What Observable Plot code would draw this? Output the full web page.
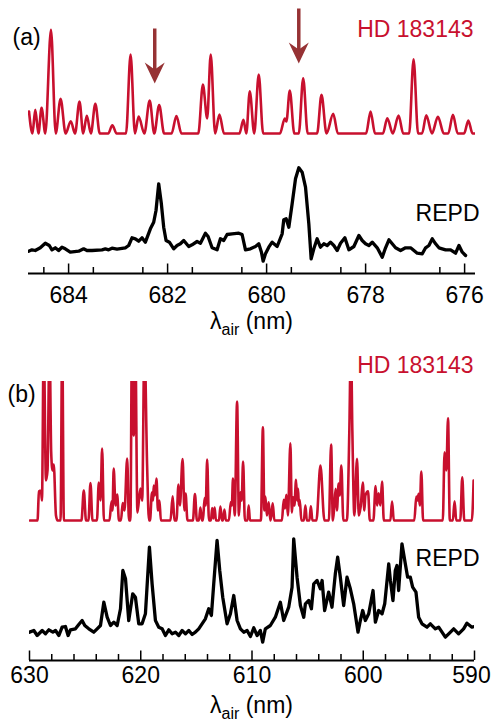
<!DOCTYPE html>
<html>
<head>
<meta charset="utf-8">
<script src="https://cdn.jsdelivr.net/npm/d3@7"></script>
<script src="https://cdn.jsdelivr.net/npm/@observablehq/plot@0.6"></script>
<style>
  body { margin: 0; background: #fff; }
  #chart { width: 491px; }
  #chart svg { display: block; }
</style>
</head>
<body>
<div id="chart"></div>
<script>
// ---------- DATA (wavelength in nm, intensity in arbitrary units) ----------
// Panel (a): 675.8 – 684.8 nm
const redA = [
  [684.80,0.22],[684.73,0],[684.673,0.237],[684.61,0],[684.546,0.257],[684.47,0],[684.356,1.037],[684.26,0],
  [684.162,0.347],[684.06,0],[683.956,0.123],[683.87,0],[683.78,0.32],[683.705,0],[683.632,0.177],[683.55,0],
  [683.46,0.297],[683.37,0],[683.20,0],[683.116,0.082],[683.03,0],
  [682.84,0],[682.748,0.79],[682.66,0],[682.585,0.17],[682.47,0],[682.362,0.33],[682.27,0],[682.17,0.285],[682.07,0],
  [681.92,0],[681.822,0.175],[681.72,0],
  [681.38,0],[681.287,0.49],[681.20,0.15],[681.129,0.79],[681.04,0],[680.953,0.19],[680.86,0],
  [680.55,0],[680.468,0.137],[680.41,0],[680.34,0.423],[680.25,0],[680.159,0.59],[680.07,0],
  [679.73,0],[679.633,0.15],[679.60,0.12],[679.532,0.43],[679.44,0],[679.35,0],[679.261,0.553],[679.17,0],
  [678.98,0],[678.891,0.387],[678.79,0],[678.654,0.197],[678.56,0],
  [677.99,0],[677.90,0.22],[677.81,0],
  [677.65,0],[677.562,0.153],[677.45,0],[677.334,0.18],[677.24,0],
  [677.12,0],[677.031,0.743],[676.94,0],
  [676.86,0],[676.774,0.183],[676.66,0],[676.539,0.167],[676.42,0],[676.33,0],[676.236,0.187],[676.14,0],
  [676.01,0],[675.925,0.13],[675.84,0],[675.78,0]
];
const blackA = [
  [684.808,0.113],[684.741,0.127],[684.673,0.12],[684.572,0.147],[684.471,0.193],[684.390,0.17],[684.336,0.127],
  [684.269,0.147],[684.202,0.12],[684.134,0.153],[684.067,0.137],[683.966,0.103],[683.797,0.113],[683.696,0.137],
  [683.629,0.12],[683.527,0.12],[683.325,0.127],[683.258,0.137],[683.191,0.127],[683.123,0.143],[683.022,0.133],
  [682.854,0.147],[682.786,0.17],[682.719,0.247],[682.651,0.237],[682.584,0.213],[682.517,0.247],[682.449,0.203],
  [682.348,0.337],[682.281,0.403],[682.234,0.52],[682.180,0.787],[682.126,0.587],[682.079,0.353],[682.031,0.22],
  [681.964,0.203],[681.876,0.137],[681.809,0.17],[681.742,0.187],[681.674,0.22],[681.573,0.16],[681.506,0.177],
  [681.405,0.21],[681.337,0.193],[681.236,0.293],[681.182,0.26],[681.101,0.147],[681.000,0.127],[680.933,0.237],
  [680.866,0.22],[680.798,0.28],[680.697,0.287],[680.562,0.293],[680.495,0.28],[680.427,0.127],[680.326,0.137],
  [680.225,0.16],[680.158,0.187],[680.104,0.103],[680.070,0.013],[680.023,0.087],[679.956,0.153],[679.888,0.203],
  [679.787,0.16],[679.686,0.287],[679.653,0.427],[679.605,0.437],[679.551,0.353],[679.484,0.587],[679.416,0.837],
  [679.349,0.947],[679.282,0.903],[679.214,0.753],[679.147,0.387],[679.100,0.037],[679.046,0.137],[678.979,0.237],
  [678.912,0.153],[678.844,0.187],[678.776,0.17],[678.709,0.203],[678.642,0.17],[678.574,0.12],[678.507,0.193],
  [678.419,0.247],[678.338,0.127],[678.237,0.16],[678.136,0.27],[678.069,0.22],[678.001,0.187],[677.934,0.17],
  [677.866,0.203],[677.765,0.147],[677.664,0.053],[677.597,0.147],[677.529,0.227],[677.462,0.187],[677.395,0.147],
  [677.294,0.12],[677.193,0.147],[677.091,0.147],[676.957,0.093],[676.855,0.087],[676.788,0.147],[676.721,0.17],
  [676.653,0.237],[676.586,0.187],[676.519,0.147],[676.384,0.127],[676.283,0.127],[676.182,0.093],[676.114,0.17],
  [676.047,0.103],[675.980,0.07]
];
// arrows in panel (a): [wavelength, tip height above the HD 183143 baseline]
const arrowsA = [[682.26, 0.50], [679.35, 0.70]];
const ticksA = [684, 682, 680, 678, 676];
const minorA = [684.5, 683.5, 682.5, 681.5, 680.5, 679.5, 678.5, 677.5, 676.5];

// Panel (b): 590 – 630 nm
const redB = [
  [629.96,0],[629.28,0],[629.15,0.29],[628.97,0.30],[628.88,0.20],[628.72,1.8],[628.52,0.40],[628.38,0.50],
  [628.20,1.8],[628.05,0.68],[627.93,0.50],[627.82,0.56],[627.62,0.05],[627.48,0],
  [627.21,0],[627.06,1.8],[626.91,0],
  [625.33,0],[625.12,0.30],[624.92,0],
  [624.70,0],[624.52,0.375],[624.34,0],
  [623.94,0],[623.77,0.38],[623.62,0.20],[623.47,0.72],[623.31,0],
  [622.81,0],[622.63,0.19],[622.54,0.10],[622.43,0.52],[622.27,0.15],[622.12,0.26],[621.96,0],
  [621.78,0],[621.62,0.175],[621.46,0.10],[621.22,0.62],[621.06,0],
  [620.93,0],[620.79,1.8],[620.63,0.85],[620.49,1.8],[620.30,0.08],[620.03,0.32],[619.87,0.20],[619.67,1.8],[619.43,0.56],[619.26,0],
  [619.17,0],[618.99,0.28],[618.90,0.20],[618.83,0.35],[618.72,0.25],[618.59,0.42],[618.45,0.10],[618.32,0.20],[618.19,0],
  [617.33,0],[617.13,0.243],[616.97,0],
  [616.79,0],[616.61,0.36],[616.48,0.15],[616.24,0.615],[616.07,0.10],[615.97,0.27],[615.80,0],
  [615.31,0],[615.13,0.265],[614.95,0],
  [614.77,0],[614.64,0.13],[614.50,0],
  [614.41,0],[614.26,0.225],[614.16,0.15],[614.03,0.61],[613.87,0],
  [613.69,0],[613.58,0.125],[613.47,0.02],[613.36,0.13],[613.24,0],
  [612.97,0],[612.84,0.14],[612.70,0],
  [612.61,0],[612.48,0.11],[612.35,0],
  [612.08,0],[611.90,0.185],[611.81,0.15],[611.71,0.42],[611.55,0.05],[611.34,1.19],[611.18,0.05],[611.04,0.283],[610.93,0.20],[610.80,0.59],[610.64,0],
  [610.41,0],[610.30,0.15],[610.18,0],
  [609.20,0],[609.02,0.933],[608.89,0.10],[608.80,0.24],[608.66,0.05],[608.50,0.183],[608.35,0],[608.26,0.05],[608.14,0.173],[607.99,0],
  [607.31,0],[607.15,0.207],[607.04,0.12],[606.91,0.257],[606.77,0.05],[606.55,0.773],[606.42,0.08],[606.31,0.233],[606.19,0.15],
  [606.04,0.407],[605.95,0.20],[605.86,0.317],[605.79,0.15],[605.71,0.207],[605.56,0],
  [605.34,0],[605.20,0.15],[605.07,0],
  [604.84,0],[604.71,0.143],[604.57,0],
  [604.21,0],[603.85,0.55],[603.49,0],
  [603.09,0],[602.89,0.76],[602.73,0],[602.60,0.15],[602.48,0.317],[602.37,0.10],[602.21,0.37],[602.12,0.25],[601.97,0.55],[601.79,0],
  [601.47,0],[601.25,0.90],[601.11,1.8],[600.98,0.90],[600.80,0.05],[600.56,0.617],[600.40,0.05],[600.22,0.15],[600.04,0.38],
  [599.90,0.10],[599.81,0.25],[599.57,0.293],[599.41,0],
  [599.09,0],[598.89,0.345],[598.76,0.15],[598.62,0.273],[598.46,0.15],[598.31,0.39],[598.15,0],
  [597.56,0],[597.41,0.19],[597.25,0],
  [595.41,0],[595.23,0.24],[595.12,0.20],[595.02,0.267],[594.91,0.15],[594.78,0.49],[594.62,0],
  [592.85,0],[592.69,0.683],[592.53,0.50],[592.38,1.023],[592.22,0],
  [591.95,0],[591.79,0.193],[591.64,0],
  [591.28,0],[591.10,0.433],[590.92,0],
  [590.24,0],[590.08,0.40]
];
const blackB = [
  [630.00,0.113],[629.61,0.13],[629.31,0.08],[628.86,0.13],[628.56,0.097],[628.26,0.137],[627.90,0.113],[627.66,0.13],
  [627.36,0.08],[627.07,0.163],[626.77,0.17],[626.53,0.08],[626.32,0.137],[625.87,0.147],[625.57,0.19],[625.27,0.23],
  [625.03,0.18],[624.67,0.147],[624.22,0.113],[623.92,0.147],[623.62,0.18],[623.32,0.413],[623.02,0.263],[622.72,0.18],
  [622.42,0.213],[622.12,0.18],[621.82,0.347],[621.61,0.73],[621.37,0.647],[621.08,0.23],[620.72,0.497],[620.48,0.463],
  [620.18,0.197],[619.88,0.197],[619.58,0.297],[619.22,0.963],[618.98,0.597],[618.68,0.23],[618.38,0.163],[618.08,0.147],
  [617.78,0.08],[617.48,0.137],[617.18,0.097],[616.88,0.113],[616.58,0.08],[616.28,0.13],[615.98,0.097],[615.68,0.13],
  [615.38,0.09],[615.09,0.113],[614.79,0.147],[614.49,0.197],[614.19,0.247],[613.89,0.347],[613.65,0.28],[613.44,0.597],
  [613.14,1.03],[612.90,0.73],[612.63,0.463],[612.24,0.197],[611.94,0.297],[611.64,0.48],[611.34,0.23],[611.04,0.147],
  [610.74,0.113],[610.44,0.13],[610.14,0.07],[609.84,0.157],[609.54,0.08],[609.25,0.13],[609.04,0.013],[608.80,0.147],
  [608.35,0.18],[607.90,0.263],[607.45,0.413],[607.15,0.23],[606.70,0.363],[606.40,0.563],[606.25,1.047],[605.95,0.663],
  [605.65,0.38],[605.35,0.263],[605.20,0.397],[604.90,0.43],[604.66,0.347],[604.45,0.597],[604.15,0.63],[603.85,0.547],
  [603.70,0.63],[603.47,0.33],[603.11,0.513],[602.81,0.363],[602.51,0.697],[602.30,0.863],[602.06,0.663],[601.76,0.38],
  [601.46,0.663],[601.16,0.547],[600.86,0.397],[600.47,0.113],[600.26,0.23],[600.05,0.33],[599.81,0.23],[599.51,0.297],
  [599.12,0.53],[598.91,0.213],[598.61,0.33],[598.31,0.297],[598.07,0.397],[597.71,0.797],[597.56,0.63],[597.33,0.43],
  [597.12,0.73],[596.97,0.78],[596.82,0.53],[596.52,0.997],[596.22,0.797],[596.01,0.663],[595.77,0.663],[595.56,0.563],
  [595.26,0.513],[595.02,0.263],[594.72,0.197],[594.27,0.163],[593.97,0.197],[593.52,0.147],[593.22,0.163],[592.92,0.113],
  [592.62,0.063],[592.32,0.097],[591.87,0.147],[591.43,0.097],[590.98,0.147],[590.68,0.203],[590.23,0.163],[590.00,0.17]
];
const ticksB = [630, 620, 610, 600, 590];
const minorB = [628, 626, 624, 622, 618, 616, 614, 612, 608, 606, 604, 602, 598, 596, 594, 592];

const starName = "HD 183143";
const labName = "REPD";

// ---------- STYLE ----------
const FONT = "'Liberation Sans', Arial, Helvetica, sans-serif";
const RED = "#c8102e";
const ARROW = "#963234";
const FS = 23;

const headSymbol = {
  draw(ctx) {
    ctx.moveTo(0, 0);
    ctx.lineTo(-10, -21);
    ctx.lineTo(0, -14);
    ctx.lineTo(10, -21);
    ctx.closePath();
  }
};

function axisLabel(svg, cx, baseline) {
  const t = d3.select(svg).append("text")
    .attr("x", cx).attr("y", baseline)
    .attr("text-anchor", "middle")
    .attr("font-family", FONT).attr("font-size", FS).attr("fill", "black");
  t.append("tspan").text("λ");
  t.append("tspan").attr("font-size", 16).attr("dy", 6).text("air");
  t.append("tspan").attr("dy", -6).text(" (nm)");
}

function panel(o) {
  const frameH = o.height - o.mt - o.mb;
  const lastTick = o.ticks[o.ticks.length - 1];
  const innerTicks = o.ticks.slice(0, -1);
  const svg = Plot.plot({
    width: 491, height: o.height,
    marginLeft: o.ml, marginRight: o.mr, marginTop: o.mt, marginBottom: o.mb,
    style: {fontFamily: FONT, fontSize: FS + "px", background: "white", overflow: "visible", color: "black"},
    x: {domain: o.xDomain, axis: null},
    y: {domain: [0, frameH / 100], axis: null},
    marks: [
      Plot.line(o.red, {x: d => d[0], y: d => d[1] + o.redOff, stroke: RED, strokeWidth: 2.6,
        curve: "monotone-x", clip: true, strokeLinejoin: "round"}),
      Plot.line(o.black, {x: d => d[0], y: d => d[1] + o.blackOff, stroke: "black", strokeWidth: 3.3,
        strokeLinejoin: "round", strokeLinecap: "round", clip: true}),
      ...(o.arrows ? [
        Plot.ruleX(o.arrows, {x: d => d[0], y1: d => d[1] + o.redOff + 0.12, y2: d => d[1] + o.redOff + 0.545,
          stroke: ARROW, strokeWidth: 3.5}),
        Plot.dot(o.arrows, {x: d => d[0], y: d => d[1] + o.redOff, symbol: headSymbol, r: 10,
          fill: ARROW, stroke: "none"})
      ] : []),
      Plot.tickX(o.ticks, {x: d => d, insetTop: frameH - 9.5, stroke: "black", strokeWidth: 1.5}),
      Plot.tickX(o.minor, {x: d => d, insetTop: frameH - 6, stroke: "black", strokeWidth: 1.5}),
      Plot.ruleY([0], {stroke: "black", strokeWidth: 2}),
      Plot.axisX(innerTicks, {tickSize: 0, tickPadding: o.tickPad, fontSize: FS, label: null, tickFormat: d => String(d)}),
      Plot.axisX([lastTick], {tickSize: 0, tickPadding: o.tickPad, fontSize: FS, label: null, dx: o.lastDx,
        tickFormat: d => String(d)}),
      Plot.text([o.tag], {text: d => d, frameAnchor: "top-left", dx: o.tagDx, dy: o.tagDy,
        textAnchor: "start", lineAnchor: "middle", fontSize: FS, fill: "black"}),
      Plot.text([starName], {text: d => d, frameAnchor: "top-right", dx: o.starDx, dy: o.starDy,
        textAnchor: "end", lineAnchor: "middle", fontSize: FS, fill: RED}),
      Plot.text([labName], {text: d => d, frameAnchor: "top-right", dx: o.labDx, dy: o.labDy,
        textAnchor: "end", lineAnchor: "middle", fontSize: FS, fill: "black"})
    ]
  });
  axisLabel(svg, (o.ml + 491 - o.mr) / 2, o.labelBaseline);
  return svg;
}

const svgA = panel({
  height: 345, ml: 28, mr: 16, mt: 0, mb: 72,
  xDomain: [684.81, 675.78], red: redA, black: blackA, redOff: 1.40, blackOff: 0.11,
  arrows: arrowsA, ticks: ticksA, minor: minorA, tickPad: 13.5, lastDx: 0,
  tag: "(a)", tagDx: -16, tagDy: 37,
  starDx: -2, starDy: 29, labDx: 4, labDy: 213.5,
  labelBaseline: 329
});
const svgB = panel({
  height: 376, ml: 29, mr: 17, mt: 36, mb: 61,
  xDomain: [630, 590], red: redB, black: blackB, redOff: 1.40, blackOff: 0.17,
  arrows: null, ticks: ticksB, minor: minorB, tickPad: 6.5, lastDx: -3,
  tag: "(b)", tagDx: -22, tagDy: 13,
  starDx: -1, starDy: -16, labDx: 5, labDy: 177,
  labelBaseline: 368
});
document.getElementById("chart").append(svgA, svgB);
</script>
</body>
</html>
